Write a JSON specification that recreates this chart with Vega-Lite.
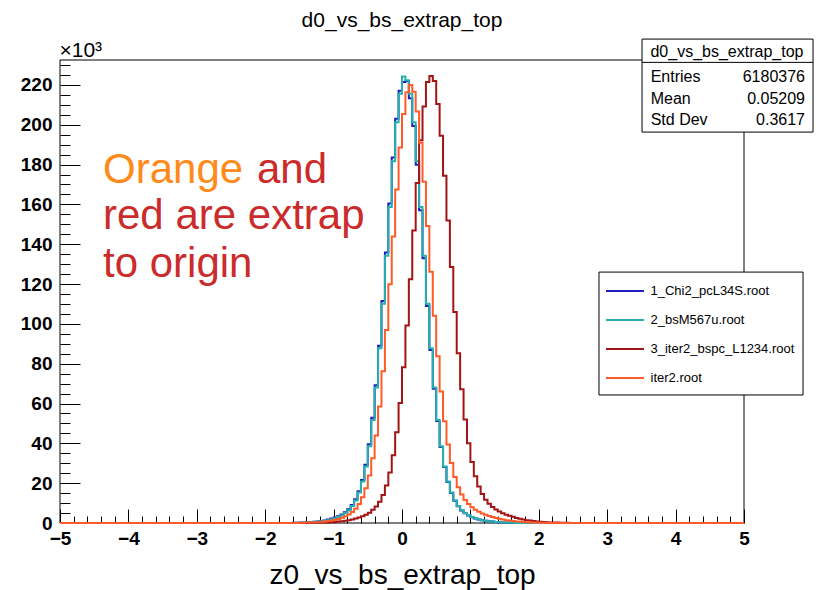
{
  "$schema": "https://vega.github.io/schema/vega-lite/v6.json",
  "width": 684,
  "height": 463,
  "autosize": "none",
  "padding": {"left": 60, "top": 60, "right": 75, "bottom": 67},
  "background": "white",
  "title": {"text": "d0_vs_bs_extrap_top", "font": "Liberation Sans", "fontSize": 21, "fontWeight": "normal", "color": "black", "anchor": "middle", "frame": "group", "offset": 8},
  "config": {
    "view": {"stroke": null},
    "font": "Liberation Sans",
    "axis": {"labelColor": "black", "tickColor": "black", "titleColor": "black", "tickWidth": 1, "grid": false, "domain": false}
  },
  "datasets": {
    "hist": [
      {"series": "1_Chi2_pcL34S.root", "z0": -5, "entries_k": 0},
      {"series": "1_Chi2_pcL34S.root", "z0": -1.625, "entries_k": 0},
      {"series": "1_Chi2_pcL34S.root", "z0": -1.575, "entries_k": 0.1},
      {"series": "1_Chi2_pcL34S.root", "z0": -1.525, "entries_k": 0.1},
      {"series": "1_Chi2_pcL34S.root", "z0": -1.475, "entries_k": 0.2},
      {"series": "1_Chi2_pcL34S.root", "z0": -1.425, "entries_k": 0.3},
      {"series": "1_Chi2_pcL34S.root", "z0": -1.375, "entries_k": 0.4},
      {"series": "1_Chi2_pcL34S.root", "z0": -1.325, "entries_k": 0.5},
      {"series": "1_Chi2_pcL34S.root", "z0": -1.275, "entries_k": 0.6},
      {"series": "1_Chi2_pcL34S.root", "z0": -1.225, "entries_k": 0.8},
      {"series": "1_Chi2_pcL34S.root", "z0": -1.175, "entries_k": 1.0},
      {"series": "1_Chi2_pcL34S.root", "z0": -1.125, "entries_k": 1.3},
      {"series": "1_Chi2_pcL34S.root", "z0": -1.075, "entries_k": 1.7},
      {"series": "1_Chi2_pcL34S.root", "z0": -1.025, "entries_k": 2.2},
      {"series": "1_Chi2_pcL34S.root", "z0": -0.975, "entries_k": 2.7},
      {"series": "1_Chi2_pcL34S.root", "z0": -0.925, "entries_k": 3.4},
      {"series": "1_Chi2_pcL34S.root", "z0": -0.875, "entries_k": 4.3},
      {"series": "1_Chi2_pcL34S.root", "z0": -0.825, "entries_k": 5.4},
      {"series": "1_Chi2_pcL34S.root", "z0": -0.775, "entries_k": 6.9},
      {"series": "1_Chi2_pcL34S.root", "z0": -0.725, "entries_k": 9.0},
      {"series": "1_Chi2_pcL34S.root", "z0": -0.675, "entries_k": 11.9},
      {"series": "1_Chi2_pcL34S.root", "z0": -0.625, "entries_k": 16.0},
      {"series": "1_Chi2_pcL34S.root", "z0": -0.575, "entries_k": 21.6},
      {"series": "1_Chi2_pcL34S.root", "z0": -0.525, "entries_k": 29.3},
      {"series": "1_Chi2_pcL34S.root", "z0": -0.475, "entries_k": 39.5},
      {"series": "1_Chi2_pcL34S.root", "z0": -0.425, "entries_k": 52.8},
      {"series": "1_Chi2_pcL34S.root", "z0": -0.375, "entries_k": 69.2},
      {"series": "1_Chi2_pcL34S.root", "z0": -0.325, "entries_k": 89.0},
      {"series": "1_Chi2_pcL34S.root", "z0": -0.275, "entries_k": 111.5},
      {"series": "1_Chi2_pcL34S.root", "z0": -0.225, "entries_k": 135.8},
      {"series": "1_Chi2_pcL34S.root", "z0": -0.175, "entries_k": 160.5},
      {"series": "1_Chi2_pcL34S.root", "z0": -0.125, "entries_k": 183.5},
      {"series": "1_Chi2_pcL34S.root", "z0": -0.075, "entries_k": 203.0},
      {"series": "1_Chi2_pcL34S.root", "z0": -0.025, "entries_k": 217.0},
      {"series": "1_Chi2_pcL34S.root", "z0": 0.025, "entries_k": 221.5},
      {"series": "1_Chi2_pcL34S.root", "z0": 0.075, "entries_k": 222.0},
      {"series": "1_Chi2_pcL34S.root", "z0": 0.125, "entries_k": 213.3},
      {"series": "1_Chi2_pcL34S.root", "z0": 0.175, "entries_k": 199.3},
      {"series": "1_Chi2_pcL34S.root", "z0": 0.225, "entries_k": 179.9},
      {"series": "1_Chi2_pcL34S.root", "z0": 0.275, "entries_k": 157.1},
      {"series": "1_Chi2_pcL34S.root", "z0": 0.325, "entries_k": 132.9},
      {"series": "1_Chi2_pcL34S.root", "z0": 0.375, "entries_k": 109.0},
      {"series": "1_Chi2_pcL34S.root", "z0": 0.425, "entries_k": 86.9},
      {"series": "1_Chi2_pcL34S.root", "z0": 0.475, "entries_k": 67.4},
      {"series": "1_Chi2_pcL34S.root", "z0": 0.525, "entries_k": 51.2},
      {"series": "1_Chi2_pcL34S.root", "z0": 0.575, "entries_k": 38.2},
      {"series": "1_Chi2_pcL34S.root", "z0": 0.625, "entries_k": 28.1},
      {"series": "1_Chi2_pcL34S.root", "z0": 0.675, "entries_k": 20.6},
      {"series": "1_Chi2_pcL34S.root", "z0": 0.725, "entries_k": 15.1},
      {"series": "1_Chi2_pcL34S.root", "z0": 0.775, "entries_k": 11.2},
      {"series": "1_Chi2_pcL34S.root", "z0": 0.825, "entries_k": 8.4},
      {"series": "1_Chi2_pcL34S.root", "z0": 0.875, "entries_k": 6.3},
      {"series": "1_Chi2_pcL34S.root", "z0": 0.925, "entries_k": 4.9},
      {"series": "1_Chi2_pcL34S.root", "z0": 0.975, "entries_k": 3.8},
      {"series": "1_Chi2_pcL34S.root", "z0": 1.025, "entries_k": 2.9},
      {"series": "1_Chi2_pcL34S.root", "z0": 1.075, "entries_k": 2.3},
      {"series": "1_Chi2_pcL34S.root", "z0": 1.125, "entries_k": 1.8},
      {"series": "1_Chi2_pcL34S.root", "z0": 1.175, "entries_k": 1.4},
      {"series": "1_Chi2_pcL34S.root", "z0": 1.225, "entries_k": 1.1},
      {"series": "1_Chi2_pcL34S.root", "z0": 1.275, "entries_k": 0.9},
      {"series": "1_Chi2_pcL34S.root", "z0": 1.325, "entries_k": 0.7},
      {"series": "1_Chi2_pcL34S.root", "z0": 1.375, "entries_k": 0.5},
      {"series": "1_Chi2_pcL34S.root", "z0": 1.425, "entries_k": 0.4},
      {"series": "1_Chi2_pcL34S.root", "z0": 1.475, "entries_k": 0.3},
      {"series": "1_Chi2_pcL34S.root", "z0": 1.525, "entries_k": 0.2},
      {"series": "1_Chi2_pcL34S.root", "z0": 1.575, "entries_k": 0.1},
      {"series": "1_Chi2_pcL34S.root", "z0": 1.625, "entries_k": 0.1},
      {"series": "1_Chi2_pcL34S.root", "z0": 1.675, "entries_k": 0},
      {"series": "1_Chi2_pcL34S.root", "z0": 5, "entries_k": 0},

      {"series": "2_bsM567u.root", "z0": -5, "entries_k": 0},
      {"series": "2_bsM567u.root", "z0": -1.575, "entries_k": 0},
      {"series": "2_bsM567u.root", "z0": -1.525, "entries_k": 0.1},
      {"series": "2_bsM567u.root", "z0": -1.475, "entries_k": 0.1},
      {"series": "2_bsM567u.root", "z0": -1.425, "entries_k": 0.2},
      {"series": "2_bsM567u.root", "z0": -1.375, "entries_k": 0.3},
      {"series": "2_bsM567u.root", "z0": -1.325, "entries_k": 0.4},
      {"series": "2_bsM567u.root", "z0": -1.275, "entries_k": 0.5},
      {"series": "2_bsM567u.root", "z0": -1.225, "entries_k": 0.7},
      {"series": "2_bsM567u.root", "z0": -1.175, "entries_k": 0.9},
      {"series": "2_bsM567u.root", "z0": -1.125, "entries_k": 1.1},
      {"series": "2_bsM567u.root", "z0": -1.075, "entries_k": 1.4},
      {"series": "2_bsM567u.root", "z0": -1.025, "entries_k": 1.9},
      {"series": "2_bsM567u.root", "z0": -0.975, "entries_k": 2.4},
      {"series": "2_bsM567u.root", "z0": -0.925, "entries_k": 3.0},
      {"series": "2_bsM567u.root", "z0": -0.875, "entries_k": 3.9},
      {"series": "2_bsM567u.root", "z0": -0.825, "entries_k": 5.0},
      {"series": "2_bsM567u.root", "z0": -0.775, "entries_k": 6.4},
      {"series": "2_bsM567u.root", "z0": -0.725, "entries_k": 8.5},
      {"series": "2_bsM567u.root", "z0": -0.675, "entries_k": 11.3},
      {"series": "2_bsM567u.root", "z0": -0.625, "entries_k": 15.3},
      {"series": "2_bsM567u.root", "z0": -0.575, "entries_k": 20.8},
      {"series": "2_bsM567u.root", "z0": -0.525, "entries_k": 28.4},
      {"series": "2_bsM567u.root", "z0": -0.475, "entries_k": 38.6},
      {"series": "2_bsM567u.root", "z0": -0.425, "entries_k": 51.7},
      {"series": "2_bsM567u.root", "z0": -0.375, "entries_k": 68.1},
      {"series": "2_bsM567u.root", "z0": -0.325, "entries_k": 87.8},
      {"series": "2_bsM567u.root", "z0": -0.275, "entries_k": 110.1},
      {"series": "2_bsM567u.root", "z0": -0.225, "entries_k": 134.2},
      {"series": "2_bsM567u.root", "z0": -0.175, "entries_k": 158.7},
      {"series": "2_bsM567u.root", "z0": -0.125, "entries_k": 181.7},
      {"series": "2_bsM567u.root", "z0": -0.075, "entries_k": 201.3},
      {"series": "2_bsM567u.root", "z0": -0.025, "entries_k": 215.5},
      {"series": "2_bsM567u.root", "z0": 0.025, "entries_k": 224.2},
      {"series": "2_bsM567u.root", "z0": 0.075, "entries_k": 222.3},
      {"series": "2_bsM567u.root", "z0": 0.125, "entries_k": 215.5},
      {"series": "2_bsM567u.root", "z0": 0.175, "entries_k": 201.3},
      {"series": "2_bsM567u.root", "z0": 0.225, "entries_k": 181.7},
      {"series": "2_bsM567u.root", "z0": 0.275, "entries_k": 158.7},
      {"series": "2_bsM567u.root", "z0": 0.325, "entries_k": 134.2},
      {"series": "2_bsM567u.root", "z0": 0.375, "entries_k": 110.1},
      {"series": "2_bsM567u.root", "z0": 0.425, "entries_k": 87.8},
      {"series": "2_bsM567u.root", "z0": 0.475, "entries_k": 68.1},
      {"series": "2_bsM567u.root", "z0": 0.525, "entries_k": 51.7},
      {"series": "2_bsM567u.root", "z0": 0.575, "entries_k": 38.6},
      {"series": "2_bsM567u.root", "z0": 0.625, "entries_k": 28.4},
      {"series": "2_bsM567u.root", "z0": 0.675, "entries_k": 20.8},
      {"series": "2_bsM567u.root", "z0": 0.725, "entries_k": 15.3},
      {"series": "2_bsM567u.root", "z0": 0.775, "entries_k": 11.3},
      {"series": "2_bsM567u.root", "z0": 0.825, "entries_k": 8.5},
      {"series": "2_bsM567u.root", "z0": 0.875, "entries_k": 6.4},
      {"series": "2_bsM567u.root", "z0": 0.925, "entries_k": 5.0},
      {"series": "2_bsM567u.root", "z0": 0.975, "entries_k": 3.9},
      {"series": "2_bsM567u.root", "z0": 1.025, "entries_k": 3.0},
      {"series": "2_bsM567u.root", "z0": 1.075, "entries_k": 2.4},
      {"series": "2_bsM567u.root", "z0": 1.125, "entries_k": 1.9},
      {"series": "2_bsM567u.root", "z0": 1.175, "entries_k": 1.4},
      {"series": "2_bsM567u.root", "z0": 1.225, "entries_k": 1.1},
      {"series": "2_bsM567u.root", "z0": 1.275, "entries_k": 0.9},
      {"series": "2_bsM567u.root", "z0": 1.325, "entries_k": 0.7},
      {"series": "2_bsM567u.root", "z0": 1.375, "entries_k": 0.5},
      {"series": "2_bsM567u.root", "z0": 1.425, "entries_k": 0.4},
      {"series": "2_bsM567u.root", "z0": 1.475, "entries_k": 0.3},
      {"series": "2_bsM567u.root", "z0": 1.525, "entries_k": 0.2},
      {"series": "2_bsM567u.root", "z0": 1.575, "entries_k": 0.1},
      {"series": "2_bsM567u.root", "z0": 1.625, "entries_k": 0.1},
      {"series": "2_bsM567u.root", "z0": 1.675, "entries_k": 0},
      {"series": "2_bsM567u.root", "z0": 5, "entries_k": 0},

      {"series": "3_iter2_bspc_L1234.root", "z0": -5, "entries_k": 0},
      {"series": "3_iter2_bspc_L1234.root", "z0": -1.325, "entries_k": 0},
      {"series": "3_iter2_bspc_L1234.root", "z0": -1.275, "entries_k": 0.1},
      {"series": "3_iter2_bspc_L1234.root", "z0": -1.225, "entries_k": 0.1},
      {"series": "3_iter2_bspc_L1234.root", "z0": -1.175, "entries_k": 0.2},
      {"series": "3_iter2_bspc_L1234.root", "z0": -1.125, "entries_k": 0.2},
      {"series": "3_iter2_bspc_L1234.root", "z0": -1.075, "entries_k": 0.3},
      {"series": "3_iter2_bspc_L1234.root", "z0": -1.025, "entries_k": 0.4},
      {"series": "3_iter2_bspc_L1234.root", "z0": -0.975, "entries_k": 0.5},
      {"series": "3_iter2_bspc_L1234.root", "z0": -0.925, "entries_k": 0.7},
      {"series": "3_iter2_bspc_L1234.root", "z0": -0.875, "entries_k": 0.9},
      {"series": "3_iter2_bspc_L1234.root", "z0": -0.825, "entries_k": 1.1},
      {"series": "3_iter2_bspc_L1234.root", "z0": -0.775, "entries_k": 1.4},
      {"series": "3_iter2_bspc_L1234.root", "z0": -0.725, "entries_k": 1.8},
      {"series": "3_iter2_bspc_L1234.root", "z0": -0.675, "entries_k": 2.2},
      {"series": "3_iter2_bspc_L1234.root", "z0": -0.625, "entries_k": 2.7},
      {"series": "3_iter2_bspc_L1234.root", "z0": -0.575, "entries_k": 3.4},
      {"series": "3_iter2_bspc_L1234.root", "z0": -0.525, "entries_k": 4.2},
      {"series": "3_iter2_bspc_L1234.root", "z0": -0.475, "entries_k": 5.2},
      {"series": "3_iter2_bspc_L1234.root", "z0": -0.425, "entries_k": 6.6},
      {"series": "3_iter2_bspc_L1234.root", "z0": -0.375, "entries_k": 8.3},
      {"series": "3_iter2_bspc_L1234.root", "z0": -0.325, "entries_k": 10.7},
      {"series": "3_iter2_bspc_L1234.root", "z0": -0.275, "entries_k": 14.1},
      {"series": "3_iter2_bspc_L1234.root", "z0": -0.225, "entries_k": 18.8},
      {"series": "3_iter2_bspc_L1234.root", "z0": -0.175, "entries_k": 25.3},
      {"series": "3_iter2_bspc_L1234.root", "z0": -0.125, "entries_k": 34.0},
      {"series": "3_iter2_bspc_L1234.root", "z0": -0.075, "entries_k": 45.6},
      {"series": "3_iter2_bspc_L1234.root", "z0": -0.025, "entries_k": 60.3},
      {"series": "3_iter2_bspc_L1234.root", "z0": 0.025, "entries_k": 78.2},
      {"series": "3_iter2_bspc_L1234.root", "z0": 0.075, "entries_k": 99.2},
      {"series": "3_iter2_bspc_L1234.root", "z0": 0.125, "entries_k": 122.4},
      {"series": "3_iter2_bspc_L1234.root", "z0": 0.175, "entries_k": 146.9},
      {"series": "3_iter2_bspc_L1234.root", "z0": 0.225, "entries_k": 170.7},
      {"series": "3_iter2_bspc_L1234.root", "z0": 0.275, "entries_k": 192.2},
      {"series": "3_iter2_bspc_L1234.root", "z0": 0.325, "entries_k": 209.2},
      {"series": "3_iter2_bspc_L1234.root", "z0": 0.375, "entries_k": 221.5},
      {"series": "3_iter2_bspc_L1234.root", "z0": 0.425, "entries_k": 224.5},
      {"series": "3_iter2_bspc_L1234.root", "z0": 0.475, "entries_k": 222.0},
      {"series": "3_iter2_bspc_L1234.root", "z0": 0.525, "entries_k": 210.4},
      {"series": "3_iter2_bspc_L1234.root", "z0": 0.575, "entries_k": 194.5},
      {"series": "3_iter2_bspc_L1234.root", "z0": 0.625, "entries_k": 174.4},
      {"series": "3_iter2_bspc_L1234.root", "z0": 0.675, "entries_k": 151.9},
      {"series": "3_iter2_bspc_L1234.root", "z0": 0.725, "entries_k": 128.5},
      {"series": "3_iter2_bspc_L1234.root", "z0": 0.775, "entries_k": 106.0},
      {"series": "3_iter2_bspc_L1234.root", "z0": 0.825, "entries_k": 85.2},
      {"series": "3_iter2_bspc_L1234.root", "z0": 0.875, "entries_k": 67.2},
      {"series": "3_iter2_bspc_L1234.root", "z0": 0.925, "entries_k": 52.0},
      {"series": "3_iter2_bspc_L1234.root", "z0": 0.975, "entries_k": 40.1},
      {"series": "3_iter2_bspc_L1234.root", "z0": 1.025, "entries_k": 30.6},
      {"series": "3_iter2_bspc_L1234.root", "z0": 1.075, "entries_k": 23.5},
      {"series": "3_iter2_bspc_L1234.root", "z0": 1.125, "entries_k": 18.3},
      {"series": "3_iter2_bspc_L1234.root", "z0": 1.175, "entries_k": 14.6},
      {"series": "3_iter2_bspc_L1234.root", "z0": 1.225, "entries_k": 11.7},
      {"series": "3_iter2_bspc_L1234.root", "z0": 1.275, "entries_k": 9.7},
      {"series": "3_iter2_bspc_L1234.root", "z0": 1.325, "entries_k": 8.0},
      {"series": "3_iter2_bspc_L1234.root", "z0": 1.375, "entries_k": 6.8},
      {"series": "3_iter2_bspc_L1234.root", "z0": 1.425, "entries_k": 5.8},
      {"series": "3_iter2_bspc_L1234.root", "z0": 1.475, "entries_k": 4.9},
      {"series": "3_iter2_bspc_L1234.root", "z0": 1.525, "entries_k": 4.2},
      {"series": "3_iter2_bspc_L1234.root", "z0": 1.575, "entries_k": 3.6},
      {"series": "3_iter2_bspc_L1234.root", "z0": 1.625, "entries_k": 3.1},
      {"series": "3_iter2_bspc_L1234.root", "z0": 1.675, "entries_k": 2.5},
      {"series": "3_iter2_bspc_L1234.root", "z0": 1.725, "entries_k": 2.1},
      {"series": "3_iter2_bspc_L1234.root", "z0": 1.775, "entries_k": 1.8},
      {"series": "3_iter2_bspc_L1234.root", "z0": 1.825, "entries_k": 1.4},
      {"series": "3_iter2_bspc_L1234.root", "z0": 1.875, "entries_k": 1.2},
      {"series": "3_iter2_bspc_L1234.root", "z0": 1.925, "entries_k": 1.0},
      {"series": "3_iter2_bspc_L1234.root", "z0": 1.975, "entries_k": 0.8},
      {"series": "3_iter2_bspc_L1234.root", "z0": 2.025, "entries_k": 0.6},
      {"series": "3_iter2_bspc_L1234.root", "z0": 2.075, "entries_k": 0.5},
      {"series": "3_iter2_bspc_L1234.root", "z0": 2.125, "entries_k": 0.4},
      {"series": "3_iter2_bspc_L1234.root", "z0": 2.175, "entries_k": 0.3},
      {"series": "3_iter2_bspc_L1234.root", "z0": 2.225, "entries_k": 0.2},
      {"series": "3_iter2_bspc_L1234.root", "z0": 2.275, "entries_k": 0.2},
      {"series": "3_iter2_bspc_L1234.root", "z0": 2.325, "entries_k": 0.1},
      {"series": "3_iter2_bspc_L1234.root", "z0": 2.375, "entries_k": 0.1},
      {"series": "3_iter2_bspc_L1234.root", "z0": 2.425, "entries_k": 0.1},
      {"series": "3_iter2_bspc_L1234.root", "z0": 2.475, "entries_k": 0},
      {"series": "3_iter2_bspc_L1234.root", "z0": 5, "entries_k": 0},

      {"series": "iter2.root", "z0": -5, "entries_k": 0},
      {"series": "iter2.root", "z0": -1.525, "entries_k": 0},
      {"series": "iter2.root", "z0": -1.475, "entries_k": 0.1},
      {"series": "iter2.root", "z0": -1.425, "entries_k": 0.1},
      {"series": "iter2.root", "z0": -1.375, "entries_k": 0.2},
      {"series": "iter2.root", "z0": -1.325, "entries_k": 0.2},
      {"series": "iter2.root", "z0": -1.275, "entries_k": 0.3},
      {"series": "iter2.root", "z0": -1.225, "entries_k": 0.4},
      {"series": "iter2.root", "z0": -1.175, "entries_k": 0.6},
      {"series": "iter2.root", "z0": -1.125, "entries_k": 0.7},
      {"series": "iter2.root", "z0": -1.075, "entries_k": 1.0},
      {"series": "iter2.root", "z0": -1.025, "entries_k": 1.2},
      {"series": "iter2.root", "z0": -0.975, "entries_k": 1.6},
      {"series": "iter2.root", "z0": -0.925, "entries_k": 2.0},
      {"series": "iter2.root", "z0": -0.875, "entries_k": 2.6},
      {"series": "iter2.root", "z0": -0.825, "entries_k": 3.4},
      {"series": "iter2.root", "z0": -0.775, "entries_k": 4.3},
      {"series": "iter2.root", "z0": -0.725, "entries_k": 5.5},
      {"series": "iter2.root", "z0": -0.675, "entries_k": 7.2},
      {"series": "iter2.root", "z0": -0.625, "entries_k": 9.6},
      {"series": "iter2.root", "z0": -0.575, "entries_k": 12.9},
      {"series": "iter2.root", "z0": -0.525, "entries_k": 17.5},
      {"series": "iter2.root", "z0": -0.475, "entries_k": 23.9},
      {"series": "iter2.root", "z0": -0.425, "entries_k": 32.5},
      {"series": "iter2.root", "z0": -0.375, "entries_k": 44.0},
      {"series": "iter2.root", "z0": -0.325, "entries_k": 58.5},
      {"series": "iter2.root", "z0": -0.275, "entries_k": 76.2},
      {"series": "iter2.root", "z0": -0.225, "entries_k": 96.9},
      {"series": "iter2.root", "z0": -0.175, "entries_k": 119.9},
      {"series": "iter2.root", "z0": -0.125, "entries_k": 143.9},
      {"series": "iter2.root", "z0": -0.075, "entries_k": 167.5},
      {"series": "iter2.root", "z0": -0.025, "entries_k": 188.6},
      {"series": "iter2.root", "z0": 0.025, "entries_k": 205.4},
      {"series": "iter2.root", "z0": 0.075, "entries_k": 216.3},
      {"series": "iter2.root", "z0": 0.125, "entries_k": 220.0},
      {"series": "iter2.root", "z0": 0.175, "entries_k": 216.5},
      {"series": "iter2.root", "z0": 0.225, "entries_k": 206.6},
      {"series": "iter2.root", "z0": 0.275, "entries_k": 191.0},
      {"series": "iter2.root", "z0": 0.325, "entries_k": 171.3},
      {"series": "iter2.root", "z0": 0.375, "entries_k": 149.2},
      {"series": "iter2.root", "z0": 0.425, "entries_k": 126.2},
      {"series": "iter2.root", "z0": 0.475, "entries_k": 104.1},
      {"series": "iter2.root", "z0": 0.525, "entries_k": 83.7},
      {"series": "iter2.root", "z0": 0.575, "entries_k": 66.0},
      {"series": "iter2.root", "z0": 0.625, "entries_k": 51.1},
      {"series": "iter2.root", "z0": 0.675, "entries_k": 39.4},
      {"series": "iter2.root", "z0": 0.725, "entries_k": 30.1},
      {"series": "iter2.root", "z0": 0.775, "entries_k": 23.1},
      {"series": "iter2.root", "z0": 0.825, "entries_k": 18.0},
      {"series": "iter2.root", "z0": 0.875, "entries_k": 14.3},
      {"series": "iter2.root", "z0": 0.925, "entries_k": 11.5},
      {"series": "iter2.root", "z0": 0.975, "entries_k": 9.5},
      {"series": "iter2.root", "z0": 1.025, "entries_k": 7.9},
      {"series": "iter2.root", "z0": 1.075, "entries_k": 6.7},
      {"series": "iter2.root", "z0": 1.125, "entries_k": 5.7},
      {"series": "iter2.root", "z0": 1.175, "entries_k": 4.8},
      {"series": "iter2.root", "z0": 1.225, "entries_k": 4.1},
      {"series": "iter2.root", "z0": 1.275, "entries_k": 3.5},
      {"series": "iter2.root", "z0": 1.325, "entries_k": 3.0},
      {"series": "iter2.root", "z0": 1.375, "entries_k": 2.5},
      {"series": "iter2.root", "z0": 1.425, "entries_k": 2.1},
      {"series": "iter2.root", "z0": 1.475, "entries_k": 1.8},
      {"series": "iter2.root", "z0": 1.525, "entries_k": 1.4},
      {"series": "iter2.root", "z0": 1.575, "entries_k": 1.2},
      {"series": "iter2.root", "z0": 1.625, "entries_k": 1.0},
      {"series": "iter2.root", "z0": 1.675, "entries_k": 0.8},
      {"series": "iter2.root", "z0": 1.725, "entries_k": 0.6},
      {"series": "iter2.root", "z0": 1.775, "entries_k": 0.5},
      {"series": "iter2.root", "z0": 1.825, "entries_k": 0.4},
      {"series": "iter2.root", "z0": 1.875, "entries_k": 0.3},
      {"series": "iter2.root", "z0": 1.925, "entries_k": 0.2},
      {"series": "iter2.root", "z0": 1.975, "entries_k": 0.2},
      {"series": "iter2.root", "z0": 2.025, "entries_k": 0.1},
      {"series": "iter2.root", "z0": 2.075, "entries_k": 0.1},
      {"series": "iter2.root", "z0": 2.125, "entries_k": 0.1},
      {"series": "iter2.root", "z0": 2.175, "entries_k": 0},
      {"series": "iter2.root", "z0": 5, "entries_k": 0}
    ]
  },
  "data": {"name": "hist"},
  "resolve": {"axis": {"x": "independent", "y": "independent"}},
  "layer": [
    {
      "data": {"values": [{}]},
      "mark": {"type": "rect", "fill": "transparent", "stroke": "black", "strokeWidth": 1},
      "encoding": {
        "x": {"datum": -5, "type": "quantitative", "scale": {"domain": [-5, 5], "nice": false, "zero": false}, "axis": null},
        "x2": {"datum": 5},
        "y": {"datum": 0, "type": "quantitative", "scale": {"domain": [0, 232.5], "nice": false}, "axis": null},
        "y2": {"datum": 232.5}
      }
    },
    {
      "transform": [{"filter": "datum.series !== 'iter2.root'"}],
      "mark": {"type": "line", "interpolate": "step", "strokeWidth": 2},
      "encoding": {
        "x": {
          "field": "z0", "type": "quantitative",
          "scale": {"domain": [-5, 5], "nice": false, "zero": false},
          "axis": {
            "orient": "bottom", "values": [-5, -4, -3, -2, -1, 0, 1, 2, 3, 4, 5], "format": "d",
            "tickSize": -14, "labelFont": "Liberation Sans", "labelFontWeight": "bold", "labelFontSize": 19,
            "labelPadding": 20, "labelFlush": false, "labelOverlap": false,
            "title": "z0_vs_bs_extrap_top", "titleFont": "Liberation Sans", "titleFontWeight": "normal", "titleFontSize": 28,
            "titleBaseline": "alphabetic", "titleAlign": "center", "titleX": 342, "titleY": 60
          }
        },
        "y": {
          "field": "entries_k", "type": "quantitative",
          "scale": {"domain": [0, 232.5], "nice": false},
          "axis": {
            "orient": "left", "values": [0, 20, 40, 60, 80, 100, 120, 140, 160, 180, 200, 220], "format": "d",
            "tickSize": -20, "labelFont": "Liberation Sans", "labelFontWeight": "bold", "labelFontSize": 19,
            "labelPadding": 28, "labelOverlap": false, "labelFlush": false,
            "title": "×10³", "titleFont": "Liberation Sans", "titleFontWeight": "normal", "titleFontSize": 21,
            "titleAngle": 0, "titleAlign": "left", "titleBaseline": "alphabetic", "titleX": -1, "titleY": -3.5
          }
        },
        "stroke": {
          "field": "series", "type": "nominal",
          "scale": {"domain": ["1_Chi2_pcL34S.root", "2_bsM567u.root", "3_iter2_bspc_L1234.root", "iter2.root"], "range": ["#1f1fc0", "#26b0ad", "#a31414", "#ff5a28"]},
          "legend": {"title": null, "orient": "none", "legendX": 539, "legendY": 212, "symbolType": "M-2,0H2", "symbolSize": 361, "symbolStrokeWidth": 2, "labelFont": "Liberation Sans", "labelFontSize": 13, "labelColor": "black", "rowPadding": 11, "padding": 8.5, "symbolOffset": 7, "labelOffset": 15, "labelLimit": 300}
        }
      }
    },
    {
      "transform": [{"filter": "datum.series === 'iter2.root'"}],
      "mark": {"type": "line", "interpolate": "step", "strokeWidth": 2},
      "encoding": {
        "x": {
          "field": "z0", "type": "quantitative",
          "scale": {"domain": [-5, 5], "nice": false, "zero": false},
          "axis": {
            "orient": "bottom", "tickSize": -7, "labels": false, "title": null,
            "values": [-4.8, -4.6, -4.4, -4.2, -3.8, -3.6, -3.4, -3.2, -2.8, -2.6, -2.4, -2.2, -1.8, -1.6, -1.4, -1.2, -0.8, -0.6, -0.4, -0.2, 0.2, 0.4, 0.6, 0.8, 1.2, 1.4, 1.6, 1.8, 2.2, 2.4, 2.6, 2.8, 3.2, 3.4, 3.6, 3.8, 4.2, 4.4, 4.6, 4.8]
          }
        },
        "y": {
          "field": "entries_k", "type": "quantitative",
          "scale": {"domain": [0, 232.5], "nice": false},
          "axis": {
            "orient": "left", "tickSize": -10, "labels": false, "title": null,
            "values": [5, 10, 15, 25, 30, 35, 45, 50, 55, 65, 70, 75, 85, 90, 95, 105, 110, 115, 125, 130, 135, 145, 150, 155, 165, 170, 175, 185, 190, 195, 205, 210, 215, 225, 230]
          }
        },
        "stroke": {
          "field": "series", "type": "nominal",
          "scale": {"domain": ["1_Chi2_pcL34S.root", "2_bsM567u.root", "3_iter2_bspc_L1234.root", "iter2.root"], "range": ["#1f1fc0", "#26b0ad", "#a31414", "#ff5a28"]},
          "legend": {"title": null, "orient": "none", "legendX": 539, "legendY": 212, "symbolType": "M-2,0H2", "symbolSize": 361, "symbolStrokeWidth": 2, "labelFont": "Liberation Sans", "labelFontSize": 13, "labelColor": "black", "rowPadding": 11, "padding": 8.5, "symbolOffset": 7, "labelOffset": 15, "labelLimit": 300}
        }
      }
    },
    {
      "data": {"values": [{}]},
      "mark": {"type": "text", "text": "Orange", "font": "Liberation Sans", "fontSize": 42, "color": "#ff8a1a", "align": "left", "baseline": "alphabetic"},
      "encoding": {
        "x": {"datum": -4.371, "type": "quantitative", "scale": {"domain": [-5, 5], "nice": false, "zero": false}, "axis": null},
        "y": {"datum": 170.7, "type": "quantitative", "scale": {"domain": [0, 232.5], "nice": false}, "axis": null}
      }
    },
    {
      "data": {"values": [{}]},
      "mark": {"type": "text", "text": "and", "font": "Liberation Sans", "fontSize": 42, "color": "#cc2b2b", "align": "left", "baseline": "alphabetic"},
      "encoding": {
        "x": {"datum": -2.12, "type": "quantitative", "scale": {"domain": [-5, 5], "nice": false, "zero": false}, "axis": null},
        "y": {"datum": 170.7, "type": "quantitative", "scale": {"domain": [0, 232.5], "nice": false}, "axis": null}
      }
    },
    {
      "data": {"values": [{}]},
      "mark": {"type": "text", "text": "red are extrap", "font": "Liberation Sans", "fontSize": 42, "color": "#cc2b2b", "align": "left", "baseline": "alphabetic"},
      "encoding": {
        "x": {"datum": -4.371, "type": "quantitative", "scale": {"domain": [-5, 5], "nice": false, "zero": false}, "axis": null},
        "y": {"datum": 147.6, "type": "quantitative", "scale": {"domain": [0, 232.5], "nice": false}, "axis": null}
      }
    },
    {
      "data": {"values": [{}]},
      "mark": {"type": "text", "text": "to origin", "font": "Liberation Sans", "fontSize": 42, "color": "#cc2b2b", "align": "left", "baseline": "alphabetic"},
      "encoding": {
        "x": {"datum": -4.371, "type": "quantitative", "scale": {"domain": [-5, 5], "nice": false, "zero": false}, "axis": null},
        "y": {"datum": 123.5, "type": "quantitative", "scale": {"domain": [0, 232.5], "nice": false}, "axis": null}
      }
    },
    {
      "data": {"values": [{}]},
      "mark": {"type": "rect", "fill": "white", "stroke": "black", "strokeWidth": 1},
      "encoding": {
        "x": {"datum": 2.88, "type": "quantitative", "scale": {"domain": [-5, 5], "nice": false, "zero": false}, "axis": null},
        "x2": {"datum": 5.863},
        "y": {"datum": 126.0, "type": "quantitative", "scale": {"domain": [0, 232.5], "nice": false}, "axis": null},
        "y2": {"datum": 64.3}
      }
    },
    {
      "data": {"values": [{}]},
      "mark": {"type": "rect", "fill": "white", "stroke": "black", "strokeWidth": 1},
      "encoding": {
        "x": {"datum": 3.509, "type": "quantitative", "scale": {"domain": [-5, 5], "nice": false, "zero": false}, "axis": null},
        "x2": {"datum": 6.009},
        "y": {"datum": 243.0, "type": "quantitative", "scale": {"domain": [0, 232.5], "nice": false}, "axis": null},
        "y2": {"datum": 196.3}
      }
    },
    {
      "data": {"values": [{}]},
      "mark": {"type": "rule", "stroke": "black", "strokeWidth": 1},
      "encoding": {
        "x": {"datum": 3.509, "type": "quantitative", "scale": {"domain": [-5, 5], "nice": false, "zero": false}, "axis": null},
        "x2": {"datum": 6.009},
        "y": {"datum": 231.3, "type": "quantitative", "scale": {"domain": [0, 232.5], "nice": false}, "axis": null}
      }
    },
    {
      "data": {"values": [{}]},
      "mark": {"type": "text", "text": "d0_vs_bs_extrap_top", "font": "Liberation Sans", "fontSize": 16, "color": "black", "align": "center", "baseline": "alphabetic"},
      "encoding": {
        "x": {"datum": 4.751, "type": "quantitative", "scale": {"domain": [-5, 5], "nice": false, "zero": false}, "axis": null},
        "y": {"datum": 234.2, "type": "quantitative", "scale": {"domain": [0, 232.5], "nice": false}, "axis": null}
      }
    },
    {
      "data": {"values": [{}]},
      "mark": {"type": "text", "text": "Entries", "font": "Liberation Sans", "fontSize": 16, "color": "black", "align": "left", "baseline": "alphabetic"},
      "encoding": {
        "x": {"datum": 3.636, "type": "quantitative", "scale": {"domain": [-5, 5], "nice": false, "zero": false}, "axis": null},
        "y": {"datum": 221.6, "type": "quantitative", "scale": {"domain": [0, 232.5], "nice": false}, "axis": null}
      }
    },
    {
      "data": {"values": [{}]},
      "mark": {"type": "text", "text": "6180376", "font": "Liberation Sans", "fontSize": 16, "color": "black", "align": "right", "baseline": "alphabetic"},
      "encoding": {
        "x": {"datum": 5.892, "type": "quantitative", "scale": {"domain": [-5, 5], "nice": false, "zero": false}, "axis": null},
        "y": {"datum": 221.6, "type": "quantitative", "scale": {"domain": [0, 232.5], "nice": false}, "axis": null}
      }
    },
    {
      "data": {"values": [{}]},
      "mark": {"type": "text", "text": "Mean", "font": "Liberation Sans", "fontSize": 16, "color": "black", "align": "left", "baseline": "alphabetic"},
      "encoding": {
        "x": {"datum": 3.636, "type": "quantitative", "scale": {"domain": [-5, 5], "nice": false, "zero": false}, "axis": null},
        "y": {"datum": 210.4, "type": "quantitative", "scale": {"domain": [0, 232.5], "nice": false}, "axis": null}
      }
    },
    {
      "data": {"values": [{}]},
      "mark": {"type": "text", "text": "0.05209", "font": "Liberation Sans", "fontSize": 16, "color": "black", "align": "right", "baseline": "alphabetic"},
      "encoding": {
        "x": {"datum": 5.892, "type": "quantitative", "scale": {"domain": [-5, 5], "nice": false, "zero": false}, "axis": null},
        "y": {"datum": 210.4, "type": "quantitative", "scale": {"domain": [0, 232.5], "nice": false}, "axis": null}
      }
    },
    {
      "data": {"values": [{}]},
      "mark": {"type": "text", "text": "Std Dev", "font": "Liberation Sans", "fontSize": 16, "color": "black", "align": "left", "baseline": "alphabetic"},
      "encoding": {
        "x": {"datum": 3.636, "type": "quantitative", "scale": {"domain": [-5, 5], "nice": false, "zero": false}, "axis": null},
        "y": {"datum": 199.9, "type": "quantitative", "scale": {"domain": [0, 232.5], "nice": false}, "axis": null}
      }
    },
    {
      "data": {"values": [{}]},
      "mark": {"type": "text", "text": "0.3617", "font": "Liberation Sans", "fontSize": 16, "color": "black", "align": "right", "baseline": "alphabetic"},
      "encoding": {
        "x": {"datum": 5.892, "type": "quantitative", "scale": {"domain": [-5, 5], "nice": false, "zero": false}, "axis": null},
        "y": {"datum": 199.9, "type": "quantitative", "scale": {"domain": [0, 232.5], "nice": false}, "axis": null}
      }
    }
  ]
}
